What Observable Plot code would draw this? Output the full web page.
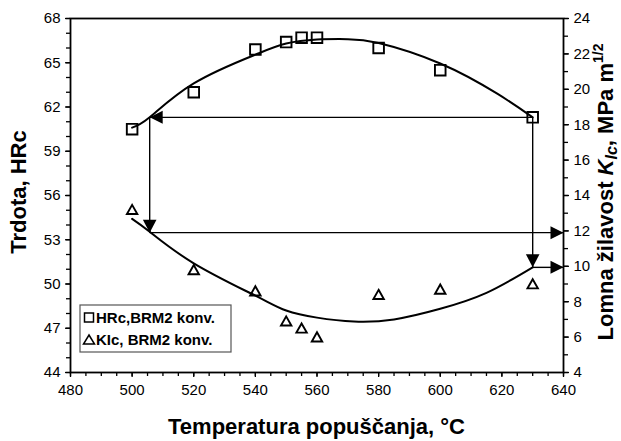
<!DOCTYPE html>
<html>
<head>
<meta charset="utf-8">
<script src="https://cdn.jsdelivr.net/npm/d3@7"></script>
<script src="https://cdn.jsdelivr.net/npm/@observablehq/plot@0.6"></script>
<style>
  html, body { margin: 0; padding: 0; background: #fff; }
  #chart { width: 621px; height: 441px; }
</style>
</head>
<body>
<div id="chart"></div>
<script>
// ---- data ----
const temps = [500, 520, 540, 550, 555, 560, 580, 600, 630];
const hrcValues = [60.5, 63.0, 65.9, 66.4, 66.7, 66.7, 66.0, 64.5, 61.3];
const kicValues = [13.2, 9.8, 8.6, 6.9, 6.5, 6.0, 8.4, 8.7, 9.0];

// trend curves as drawn in the reference
const hrcFitT = [500, 505.7, 520, 540, 550, 560, 570, 580, 600, 618.5, 630];
const hrcFitV = [60.6, 61.3, 63.6, 65.55, 66.3, 66.57, 66.6, 66.34, 64.95, 62.9, 61.3];
const kicFitT = [500, 505.7, 520, 540, 550, 560, 572, 585, 600, 615, 630];
const kicFitV = [12.68, 11.95, 10.17, 8.34, 7.5, 7.1, 6.88, 7.0, 7.6, 8.5, 9.94];

// read-off construction (arrows)
const guideT = [505.7, 630];
const guideHRc = 61.3;
const guideK = [11.9, 9.94];

// axes
const xTicks = [480, 500, 520, 540, 560, 580, 600, 620, 640];
const leftTicks = [44, 47, 50, 53, 56, 59, 62, 65, 68];
const rightTicks = [4, 6, 8, 10, 12, 14, 16, 18, 20, 22, 24];
const xDomain = [480, 640];
const leftDomain = [44, 68];
const rightDomain = [4, 24];

// legend entries
const legendLabels = ["HRc,BRM2 konv.", "KIc, BRM2 konv."];

// map right-axis (K) values onto the left (HRc) scale
const toH = k => leftDomain[0] + (k - rightDomain[0]) * (leftDomain[1] - leftDomain[0]) / (rightDomain[1] - rightDomain[0]);
const toK = h => rightDomain[0] + (h - leftDomain[0]) * (rightDomain[1] - rightDomain[0]) / (leftDomain[1] - leftDomain[0]);

const hrcPts = temps.map((t, i) => ({t, v: hrcValues[i]}));
const kicPts = temps.map((t, i) => ({t, v: toH(kicValues[i])}));
const hrcFit = hrcFitT.map((t, i) => ({t, v: hrcFitV[i]}));
const kicFit = kicFitT.map((t, i) => ({t, v: toH(kicFitV[i])}));

const links = [
  {x1: guideT[1], y1: guideHRc, x2: guideT[0], y2: guideHRc},
  {x1: guideT[0], y1: guideHRc, x2: guideT[0], y2: toH(guideK[0])},
  {x1: guideT[0], y1: toH(guideK[0]), x2: xDomain[1], y2: toH(guideK[0])},
  {x1: guideT[1], y1: guideHRc, x2: guideT[1], y2: toH(guideK[1])},
  {x1: guideT[1], y1: toH(guideK[1]), x2: xDomain[1], y2: toH(guideK[1])}
];

// symbols
const squareSym = {draw(c) { const s = 5.3; c.moveTo(-s, -s); c.lineTo(s, -s); c.lineTo(s, s); c.lineTo(-s, s); c.closePath(); }};
const triSym = {draw(c) { c.moveTo(0, -4.8); c.lineTo(5.2, 4.4); c.lineTo(-5.2, 4.4); c.closePath(); }};
const headLeft = {draw(c) { c.moveTo(0, 0); c.lineTo(13, -6.5); c.lineTo(13, 6.5); c.closePath(); }};
const headRight = {draw(c) { c.moveTo(0, 0); c.lineTo(-13, -6.5); c.lineTo(-13, 6.5); c.closePath(); }};
const headDown = {draw(c) { c.moveTo(0, 0); c.lineTo(-6.8, -13); c.lineTo(6.8, -13); c.closePath(); }};

const heads = [
  {t: guideT[0], v: guideHRc, s: headLeft},
  {t: guideT[0], v: toH(guideK[0]), s: headDown},
  {t: xDomain[1], v: toH(guideK[0]), s: headRight},
  {t: guideT[1], v: toH(guideK[1]), s: headDown},
  {t: xDomain[1], v: toH(guideK[1]), s: headRight}
];

const font = "'Liberation Sans', Arial, Helvetica, sans-serif";

const svg = Plot.plot({
  width: 621,
  height: 441,
  marginLeft: 70,
  marginRight: 58,
  marginTop: 18,
  marginBottom: 69,
  style: {fontFamily: font, fontSize: "15px", color: "#000", background: "#fff", overflow: "visible"},
  x: {domain: xDomain},
  y: {domain: leftDomain},
  marks: [
    // minor ticks
    Plot.axisX({ticks: d3.range(xDomain[0], xDomain[1] + 1, 5), tickSize: 4, tickFormat: () => "", label: null, strokeWidth: 1.3}),
    Plot.axisY({anchor: "left", ticks: d3.range(leftDomain[0], leftDomain[1] + 1, 1), tickSize: 4, tickFormat: () => "", label: null, strokeWidth: 1.3}),
    Plot.axisY({anchor: "right", ticks: d3.range(rightDomain[0], rightDomain[1] + 1, 1).map(toH), tickSize: 4, tickFormat: () => "", label: null, strokeWidth: 1.3}),
    // major ticks + labels
    Plot.axisX({ticks: xTicks, tickSize: 5, tickPadding: 7, label: null, fontSize: 15, strokeWidth: 1.3}),
    Plot.axisY({anchor: "left", ticks: leftTicks, tickSize: 5, tickPadding: 5, label: null, fontSize: 15, strokeWidth: 1.3}),
    Plot.axisY({anchor: "right", ticks: rightTicks.map(toH), tickFormat: d => Math.round(toK(d)), tickSize: 5, tickPadding: 5, label: null, fontSize: 15, strokeWidth: 1.3}),
    Plot.frame({stroke: "#000", strokeWidth: 1.8}),
    // curves
    Plot.line(hrcFit, {x: "t", y: "v", curve: "natural", stroke: "#000", strokeWidth: 2}),
    Plot.line(kicFit, {x: "t", y: "v", curve: "natural", stroke: "#000", strokeWidth: 2}),
    // construction
    Plot.link(links, {x1: "x1", y1: "y1", x2: "x2", y2: "y2", stroke: "#000", strokeWidth: 1.4}),
    Plot.dot(heads.filter(d => d.s === headLeft), {x: "t", y: "v", symbol: headLeft, fill: "#000", stroke: "none"}),
    Plot.dot(heads.filter(d => d.s === headRight), {x: "t", y: "v", symbol: headRight, fill: "#000", stroke: "none"}),
    Plot.dot(heads.filter(d => d.s === headDown), {x: "t", y: "v", symbol: headDown, fill: "#000", stroke: "none"}),
    // data points
    Plot.dot(hrcPts, {x: "t", y: "v", symbol: squareSym, fill: "none", stroke: "#000", strokeWidth: 1.9}),
    Plot.dot(kicPts, {x: "t", y: "v", symbol: triSym, fill: "none", stroke: "#000", strokeWidth: 1.9})
  ]
});

const s = d3.select(svg);
// axis titles
s.append("text")
  .attr("x", 316.5).attr("y", 434)
  .attr("text-anchor", "middle")
  .style("font", `bold 22px ${font}`)
  .text("Temperatura popuščanja, °C");

s.append("text")
  .attr("transform", "translate(26,192) rotate(-90)")
  .attr("text-anchor", "middle")
  .style("font", `bold 22px ${font}`)
  .text("Trdota, HRc");

const rt = s.append("text")
  .attr("transform", "translate(613,192) rotate(-90)")
  .attr("text-anchor", "middle")
  .style("font", `bold 22px ${font}`);
rt.append("tspan").text("Lomna žilavost ");
rt.append("tspan").style("font-style", "italic").text("K");
rt.append("tspan").style("font-style", "italic").style("font-size", "16px").attr("dy", 4).text("Ic");
rt.append("tspan").attr("dy", -4).text(", MPa m");
rt.append("tspan").style("font-size", "14px").attr("dy", -10).text("1/2");

// legend
const lg = s.append("g").attr("text-anchor", "start");
lg.append("rect").attr("x", 80).attr("y", 305).attr("width", 151).attr("height", 47)
  .attr("fill", "#fff").attr("stroke", "#555").attr("stroke-width", 1.2);
lg.append("rect").attr("x", 84.5).attr("y", 313).attr("width", 9).attr("height", 9)
  .attr("fill", "none").attr("stroke", "#000").attr("stroke-width", 1.5);
lg.append("text").attr("x", 96).attr("y", 323).attr("text-anchor", "start")
  .style("font", `bold 15px ${font}`).text(legendLabels[0]);
lg.append("path").attr("d", "M89,335 L94.5,344 L83.5,344 Z")
  .attr("fill", "none").attr("stroke", "#000").attr("stroke-width", 1.5);
lg.append("text").attr("x", 96).attr("y", 344.5).attr("text-anchor", "start")
  .style("font", `bold 15px ${font}`).text(legendLabels[1]);

document.getElementById("chart").appendChild(svg);
</script>
</body>
</html>
